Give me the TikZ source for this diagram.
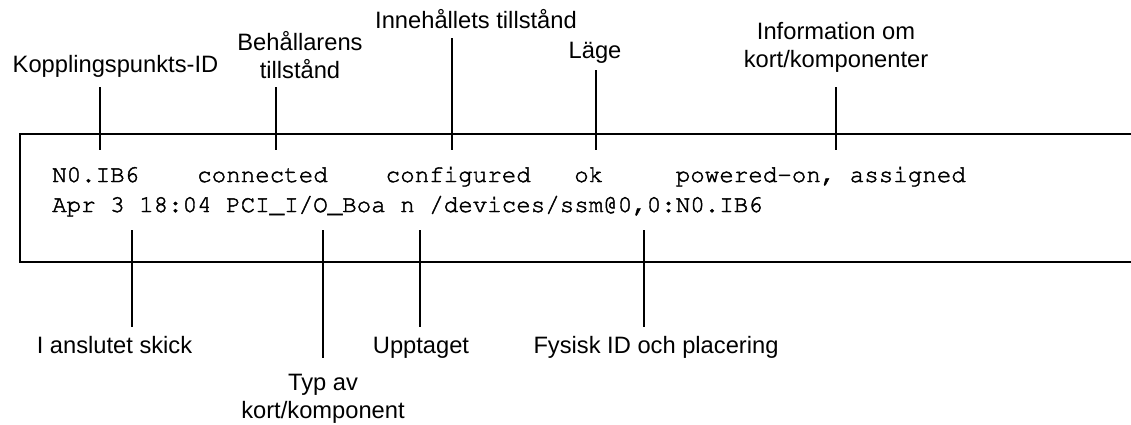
\documentclass[tikz,border=0pt]{standalone}
\usepackage{fontspec}
\setmainfont{Liberation Sans}
\newcommand\codefont{\fontencoding{T1}\fontfamily{pcr}\selectfont}
\newcommand\heavytext[1]{\special{pdf:literal direct 2 Tr 0.45 w}#1\special{pdf:literal direct 0 Tr}}
\begin{document}
\begin{tikzpicture}[x=1pt,y=-1pt,
  lbl/.style={font=\fontsize{23.7}{27.5}\selectfont, inner sep=0pt, align=center, anchor=base},
  code/.style={font=\codefont\fontsize{24.17}{30}\selectfont, inner sep=0pt, anchor=base west},
  tick/.style={line width=2.4pt},
  frame/.style={line width=2.6pt}]
\useasboundingbox (0,0) rectangle (1131,424);
\fill[white] (0,0) rectangle (1131,424);

% frame (open on the right)
\coordinate (fTR) at (1131,134);
\coordinate (fTL) at (20,134);
\coordinate (fBL) at (20,262);
\coordinate (fBR) at (1131,262);
\draw[frame] (fTR) -- (fTL) -- (fBL) -- (fBR);

% output lines
\node[code] (row1) at (52,182) {\heavytext{N0.IB6\ \ \ \ connected\ \ \ \ configured\ \ \ ok\ \ \ \ \ powered-on,\ assigned}};
\node[code] (row2) at (52,212) {\heavytext{Apr\ 3\ 18:04\ PCI\_I/O\_Boa\ n\ /devices/ssm@0,0:N0.IB6}};

% labels above (base = baseline of last line)
\node[lbl] (kid)  at (115.5,72) {Kopplingspunkts-ID};
\node[lbl] (beh)  at (300,78)   {Behållarens\\tillstånd};
\node[lbl] (inn)  at (476,28)   {Innehållets tillstånd};
\node[lbl] (lage) at (595,58)   {Läge};
\node[lbl] (info) at (836,67)   {Information om\\kort/komponenter};

% labels below
\node[lbl] (ansl) at (114.5,353) {I anslutet skick};
\node[lbl] (typ)  at (323,418)   {Typ av\\kort/komponent};
\node[lbl] (upp)  at (421,353)   {Upptaget};
\node[lbl] (fys)  at (656,353)   {Fysisk ID och placering};

% top ticks
\coordinate (kidA) at (100,87);  \coordinate (kidB) at (100,150);
\coordinate (behA) at (276,87);  \coordinate (behB) at (276,150);
\coordinate (innA) at (452,38);  \coordinate (innB) at (452,150);
\coordinate (lagA) at (596,70);  \coordinate (lagB) at (596,150);
\coordinate (infA) at (836,87);  \coordinate (infB) at (836,150);
\draw[tick] (kidA) -- (kidB);
\draw[tick] (behA) -- (behB);
\draw[tick] (innA) -- (innB);
\draw[tick] (lagA) -- (lagB);
\draw[tick] (infA) -- (infB);

% bottom ticks
\coordinate (ansA) at (132,230); \coordinate (ansB) at (132,327);
\coordinate (typA) at (323,230); \coordinate (typB) at (323,358);
\coordinate (uppA) at (420,230); \coordinate (uppB) at (420,327);
\coordinate (fysA) at (644,230); \coordinate (fysB) at (644,327);
\draw[tick] (ansA) -- (ansB);
\draw[tick] (typA) -- (typB);
\draw[tick] (uppA) -- (uppB);
\draw[tick] (fysA) -- (fysB);
\end{tikzpicture}
\end{document}
